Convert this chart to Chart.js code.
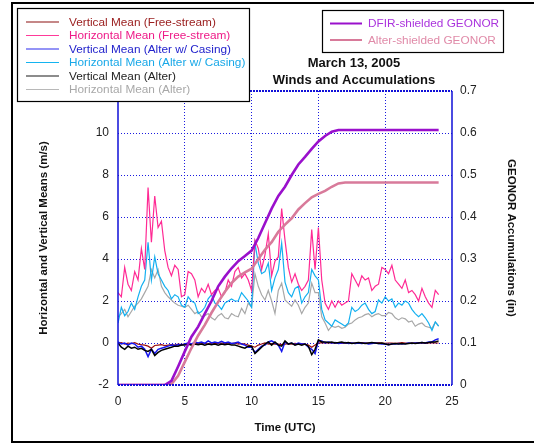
<!DOCTYPE html>
<html>
<head>
<meta charset="utf-8">
<script src="https://cdn.jsdelivr.net/npm/chart.js@4.4.1/dist/chart.umd.min.js"></script>
<style>
html,body{margin:0;padding:0;background:#fff;}
#wrap{position:relative;width:534px;height:444px;}
</style>
</head>
<body>
<div id="wrap"><canvas id="c" width="534" height="444"></canvas></div>
<script>
// Time (UTC hours) for wind series
const hours = [0,0.25,0.5,0.75,1,1.25,1.5,1.75,2,2.25,2.5,2.75,3,3.25,3.5,3.75,
4,4.25,4.5,4.75,5,5.25,5.5,5.75,6,6.25,6.5,6.75,7,7.25,7.5,7.75,
8,8.25,8.5,8.75,9,9.25,9.5,9.75,10,10.25,10.5,10.75,11,11.25,11.5,11.75,
12,12.25,12.5,12.75,13,13.25,13.5,13.75,14,14.25,14.5,14.75,15,15.25,15.5,15.75,
16,16.25,16.5,16.75,17,17.25,17.5,17.75,18,18.25,18.5,18.75,19,19.25,19.5,19.75,
20,20.25,20.5,20.75,21,21.25,21.5,21.75,22,22.25,22.5,22.75,23,23.25,23.5,23.75,24];

const vertFree = [0,0.02,-0.05,0,-0.03,0.02,-0.05,-0.08,
-0.1,-0.15,-0.25,-0.12,-0.1,-0.08,-0.12,-0.1,
-0.08,-0.1,-0.05,-0.08,-0.05,-0.03,-0.05,-0.02,
-0.03,0,-0.02,-0.05,0,-0.03,-0.02,0,
-0.02,-0.05,-0.03,0,-0.05,-0.03,-0.05,-0.1,
-0.15,-0.2,-0.1,-0.05,0,-0.05,-0.03,-0.05,
-0.05,-0.08,-0.05,-0.03,-0.05,-0.02,-0.05,-0.03,
-0.05,-0.1,-0.2,-0.1,0,0.02,0,0.02,
0,0.02,0,-0.02,0,0.02,0,-0.02,
0,0.02,0,0,-0.02,0,0.02,0,
-0.02,0,0,-0.02,0,0.02,0,-0.02,
0,0,0.02,0,-0.02,0,0.02,0,0];

const horizFree = [2.4,2.2,3.6,2.8,2.5,3.4,3.0,4.5,
3.5,7.4,4.8,7.0,5.5,5.8,4.4,3.6,
3.2,3.7,3.5,2.2,2.3,3.4,3.3,3.0,
2.2,2.6,2.4,2.8,2.3,2.5,2.6,2.2,
2.4,3.0,2.7,3.4,3.6,3.1,3.3,3.0,
2.5,4.9,4.5,3.5,4.2,5.2,3.2,3.9,
4.1,6.4,4.9,3.6,2.9,3.3,2.8,2.5,
2.7,3.0,5.4,3.5,5.5,3.0,1.9,1.6,
2.0,1.7,2.0,1.8,1.9,2.0,3.3,3.0,
2.7,3.2,3.0,3.1,2.5,2.7,2.8,3.6,
3.5,3.3,3.7,3.0,2.8,2.6,3.0,2.4,
2.5,2.3,2.0,2.6,2.2,1.9,1.7,2.5,2.3];

const vertCasing = [0.05,-0.05,0,-0.1,0,-0.05,-0.2,-0.15,
-0.3,-0.65,-0.3,-0.5,-0.3,-0.25,-0.2,-0.15,
-0.1,-0.12,-0.08,-0.1,-0.05,0,-0.05,0.05,
0,0.05,-0.02,0.1,0,0.05,0,0.08,
0,0.05,-0.02,0,0.05,-0.05,-0.1,-0.2,
-0.2,-0.45,-0.3,-0.15,-0.1,0.05,0.1,0,
-0.1,-0.4,0.05,-0.05,0,-0.08,0,-0.05,
-0.05,-0.2,-0.3,-0.5,0.1,0.1,0,0.05,
0,0.02,-0.02,0,0.02,-0.02,0,-0.02,
0,-0.02,0,-0.05,-0.02,0,-0.02,-0.05,
-0.05,-0.08,-0.05,-0.05,-0.02,-0.05,-0.03,0,
-0.02,0,0,0.02,0,0.05,0.05,0.15,0.2];

const horizCasing = [0.95,1.7,1.3,1.5,1.9,1.6,2.2,2.7,
3.0,4.8,3.0,4.1,3.3,3.0,2.7,2.5,
2.1,2.3,2.2,1.8,1.7,2.2,2.0,1.9,
1.4,1.5,1.7,2.1,2.3,1.9,1.8,1.6,
1.9,2.0,2.1,2.0,2.0,2.4,2.2,2.0,
1.7,4.75,3.8,3.3,3.4,3.8,2.5,3.1,
3.5,4.75,2.9,2.4,2.2,2.6,2.7,1.9,
2.2,2.4,3.5,3.2,3.0,1.6,1.1,0.95,
0.8,1.1,1.0,0.9,0.8,0.95,1.7,1.5,
1.6,1.8,1.9,1.6,1.4,1.5,2.05,1.9,
2.2,2.0,2.1,1.7,1.9,1.8,2.0,1.9,
1.6,1.4,1.25,1.4,1.2,0.95,0.6,1.0,0.8];

const vertAlter = [0,-0.2,-0.3,-0.15,-0.25,-0.2,-0.3,-0.25,
-0.35,-0.4,-0.3,-0.6,-0.45,-0.35,-0.3,-0.25,
-0.2,-0.15,-0.15,-0.1,-0.1,-0.05,-0.1,-0.05,
-0.08,-0.05,-0.1,-0.05,-0.08,-0.05,-0.1,-0.05,
-0.08,-0.05,-0.1,-0.1,-0.15,-0.2,-0.25,-0.15,
-0.15,-0.5,-0.35,-0.2,-0.05,0.05,-0.1,0.05,
-0.1,-0.15,0.1,-0.05,0,-0.1,-0.05,-0.1,
-0.05,-0.15,-0.55,-0.3,0.15,0.05,0.05,0.02,
0.05,0,0.02,0.05,0,0.02,-0.02,0,
0.02,0,-0.02,0,0.02,0,-0.02,0,
-0.05,-0.08,-0.05,-0.02,-0.05,-0.03,-0.05,-0.02,
0,-0.02,0,0.02,0,0.02,0.05,0.05,0.1];

const horizAlter = [1.25,1.4,1.6,1.25,1.5,1.75,1.9,2.1,
2.4,2.7,3.5,3.1,3.5,2.7,2.4,2.2,
2.05,1.9,1.8,1.75,1.7,1.8,1.6,1.4,
1.5,1.25,1.3,1.4,1.2,1.1,1.3,1.4,
1.2,1.15,1.4,1.3,1.25,1.65,1.4,1.9,
1.7,3.3,2.7,2.3,2.05,2.5,2.0,1.4,
2.5,2.85,2.05,1.9,1.75,2.05,1.8,1.4,
1.7,1.9,2.85,2.4,2.4,1.25,0.95,0.6,
0.8,0.75,0.8,0.7,0.75,0.9,0.95,1.1,
1.2,1.25,1.35,1.4,1.25,1.35,1.4,1.3,
1.3,1.45,1.4,1.2,1.1,1.2,1.15,1.0,
1.05,0.8,0.9,0.95,0.8,0.75,0.7,1.0,0.8];

// GEONOR accumulations (in)
const accHours = [0,3.5,4,4.5,5,5.5,6,6.5,7,7.5,8,8.5,9,9.5,10,10.5,11,11.5,12,12.5,13,13.5,14,14.5,15,15.5,16,16.5,17,24];
const dfirAcc = [0,0,0.01,0.044,0.08,0.115,0.139,0.17,0.2,0.235,0.258,0.278,0.295,0.307,0.32,0.35,0.385,0.42,0.45,0.472,0.5,0.525,0.543,0.562,0.58,0.593,0.603,0.607,0.607,0.607];
const alterAcc = [0,0,0.002,0.022,0.055,0.088,0.118,0.143,0.172,0.198,0.222,0.243,0.258,0.268,0.277,0.3,0.322,0.34,0.365,0.382,0.397,0.418,0.433,0.447,0.455,0.462,0.472,0.48,0.482,0.482];

const xTicks = [0,5,10,15,20,25];
const leftTicks = [-2,0,2,4,6,8,10];
const rightTicks = [0,0.1,0.2,0.3,0.4,0.5,0.6,0.7];

const titleLines = ['March 13, 2005','Winds and Accumulations'];
const legendA = [
  {text:'Vertical Mean (Free-stream)', line:'#8b1010', color:'#9b2020'},
  {text:'Horizontal Mean (Free-stream)', line:'#ff3a9a', color:'#ee1a88'},
  {text:'Vertical Mean (Alter w/ Casing)', line:'#2a2aee', color:'#2222cc'},
  {text:'Horizontal Mean (Alter w/ Casing)', line:'#14b4f0', color:'#18a8e8'},
  {text:'Vertical Mean (Alter)', line:'#666666', color:'#222222'},
  {text:'Horizontal Mean (Alter)', line:'#b8b8b8', color:'#a8a8a8'}
];
const legendB = [
  {text:'DFIR-shielded GEONOR', line:'#9a10cc', color:'#aa33dd'},
  {text:'Alter-shielded GEONOR', line:'#d87a9a', color:'#e08aa8'}
];

const FONT = "'Liberation Sans', Arial, sans-serif";
const pts = (xs, ys) => xs.map((x,i)=>({x:x, y:ys[i]}));

const ds = (label, data, color, width, order, axis) => ({
  label, data, borderColor:color, backgroundColor:color, borderWidth:width,
  pointRadius:0, tension:0, fill:false, order, yAxisID: axis || 'y'
});

const decor = {
  id:'decor',
  afterDraw(chart){
    const ctx = chart.ctx, a = chart.chartArea;
    ctx.save();
    // plot border
    ctx.strokeStyle = '#1010d8';
    ctx.lineWidth = 1.5;
    ctx.setLineDash([]);
    ctx.beginPath();
    ctx.moveTo(a.left, a.top); ctx.lineTo(a.left, a.bottom);
    ctx.moveTo(a.right, a.top); ctx.lineTo(a.right, a.bottom);
    ctx.stroke();
    ctx.lineWidth = 2;
    ctx.setLineDash([2,1]);
    ctx.beginPath();
    ctx.moveTo(a.left, a.top); ctx.lineTo(a.right, a.top);
    ctx.moveTo(a.left, a.bottom); ctx.lineTo(a.right, a.bottom);
    ctx.stroke();
    ctx.setLineDash([]);
    // outer frame
    ctx.strokeStyle = '#000';
    ctx.lineWidth = 2;
    ctx.beginPath();
    ctx.moveTo(560, 3); ctx.lineTo(12, 3); ctx.lineTo(12, 442); ctx.lineTo(560, 442);
    ctx.stroke();
    // title
    ctx.fillStyle = '#111';
    ctx.font = 'bold 13px ' + FONT;
    ctx.textAlign = 'center';
    ctx.textBaseline = 'middle';
    ctx.fillText(titleLines[0], 354, 63);
    ctx.fillText(titleLines[1], 354, 80);
    // legend A
    ctx.fillStyle = '#fff';
    ctx.fillRect(17, 8, 232, 93);
    ctx.strokeStyle = '#000'; ctx.lineWidth = 1.2;
    ctx.strokeRect(17.5, 8.5, 232, 93);
    ctx.font = '11.8px ' + FONT;
    ctx.textAlign = 'left';
    legendA.forEach((it, i) => {
      const y = 22 + i*13.5;
      ctx.strokeStyle = it.line; ctx.lineWidth = i===4 ? 1.6 : 1.2;
      ctx.beginPath(); ctx.moveTo(26, y); ctx.lineTo(59, y); ctx.stroke();
      ctx.fillStyle = it.color;
      ctx.fillText(it.text, 69, y + 0.5);
    });
    // legend B
    ctx.fillStyle = '#fff';
    ctx.fillRect(322, 10, 181, 42);
    ctx.strokeStyle = '#000'; ctx.lineWidth = 1.2;
    ctx.strokeRect(322.5, 10.5, 181, 42);
    legendB.forEach((it, i) => {
      const y = 23.5 + i*16.5;
      ctx.strokeStyle = it.line; ctx.lineWidth = 2;
      ctx.beginPath(); ctx.moveTo(330, y); ctx.lineTo(362, y); ctx.stroke();
      ctx.fillStyle = it.color;
      ctx.fillText(it.text, 368, y + 0.5);
    });
    ctx.restore();
  }
};

const gridStyle = {
  color:'#1a1ae0', lineWidth:1, drawTicks:false
};
const borderStyle = {display:false, dash:[1,2]};

new Chart(document.getElementById('c'), {
  type:'line',
  data:{
    datasets:[
      ds('Horizontal Mean (Alter)', pts(hours, horizAlter), '#a8a8a8', 1.2, 10),
      ds('Horizontal Mean (Alter w/ Casing)', pts(hours, horizCasing), '#14b0f0', 1.2, 9),
      ds('Horizontal Mean (Free-stream)', pts(hours, horizFree), '#ff2a94', 1.2, 8),
      ds('Vertical Mean (Free-stream)', pts(hours, vertFree), '#9b1010', 1.2, 7),
      ds('Vertical Mean (Alter w/ Casing)', pts(hours, vertCasing), '#1515ee', 1.5, 6),
      ds('Vertical Mean (Alter)', pts(hours, vertAlter), '#000000', 1.5, 5),
      ds('Alter-shielded GEONOR', pts(accHours, alterAcc), '#d87a9a', 2.6, 2, 'y2'),
      ds('DFIR-shielded GEONOR', pts(accHours, dfirAcc), '#9a10cc', 2.6, 1, 'y2')
    ]
  },
  options:{
    responsive:false,
    animation:false,
    layout:{padding:{left:37, right:16, top:91, bottom:9}},
    plugins:{legend:{display:false}, tooltip:{enabled:false}, title:{display:false}},
    scales:{
      x:{
        type:'linear', min:0, max:25,
        afterBuildTicks(s){ s.ticks = xTicks.map(v=>({value:v})); },
        afterFit(s){ s.height = 50; },
        grid:{...gridStyle, color:(c)=> (c.tick && (c.tick.value===0||c.tick.value===25)) ? 'rgba(0,0,0,0)' : '#1a1ae0'},
        border:borderStyle,
        ticks:{color:'#222', font:{family:FONT, size:12}, padding:9, maxRotation:0, autoSkip:false},
        title:{display:true, text:'Time (UTC)', color:'#111', font:{family:FONT, size:11.5, weight:'bold'}, padding:{top:0,bottom:0}}
      },
      y:{
        position:'left', min:-2, max:12,
        afterBuildTicks(s){ s.ticks = leftTicks.concat([12]).map(v=>({value:v})); },
        afterFit(s){ s.width = 81; },
        grid:{...gridStyle, color:(c)=> (c.tick && (c.tick.value===-2||c.tick.value===12)) ? 'rgba(0,0,0,0)' : '#1a1ae0'},
        border:borderStyle,
        ticks:{color:'#222', font:{family:FONT, size:12}, padding:9,
          callback:(v)=> leftTicks.includes(v) ? String(v) : ''},
        title:{display:true, text:'Horizontal and Vertical Means (m/s)', color:'#111', font:{family:FONT, size:11.5, weight:'bold'}, padding:{top:0,bottom:0}}
      },
      y2:{
        position:'right', min:0, max:0.7,
        afterBuildTicks(s){ s.ticks = rightTicks.map(v=>({value:v})); },
        afterFit(s){ s.width = 66; },
        grid:{display:false, drawTicks:false},
        border:{display:false},
        ticks:{color:'#222', font:{family:FONT, size:12}, padding:8,
          callback:(v)=> v===0 ? '0' : (Math.round(v*10)/10).toFixed(1)},
        title:{display:true, text:'GEONOR Accumulations (in)', color:'#111', font:{family:FONT, size:11.5, weight:'bold'}, padding:{top:0,bottom:0}}
      }
    }
  },
  plugins:[decor]
});
</script>
</body>
</html>
